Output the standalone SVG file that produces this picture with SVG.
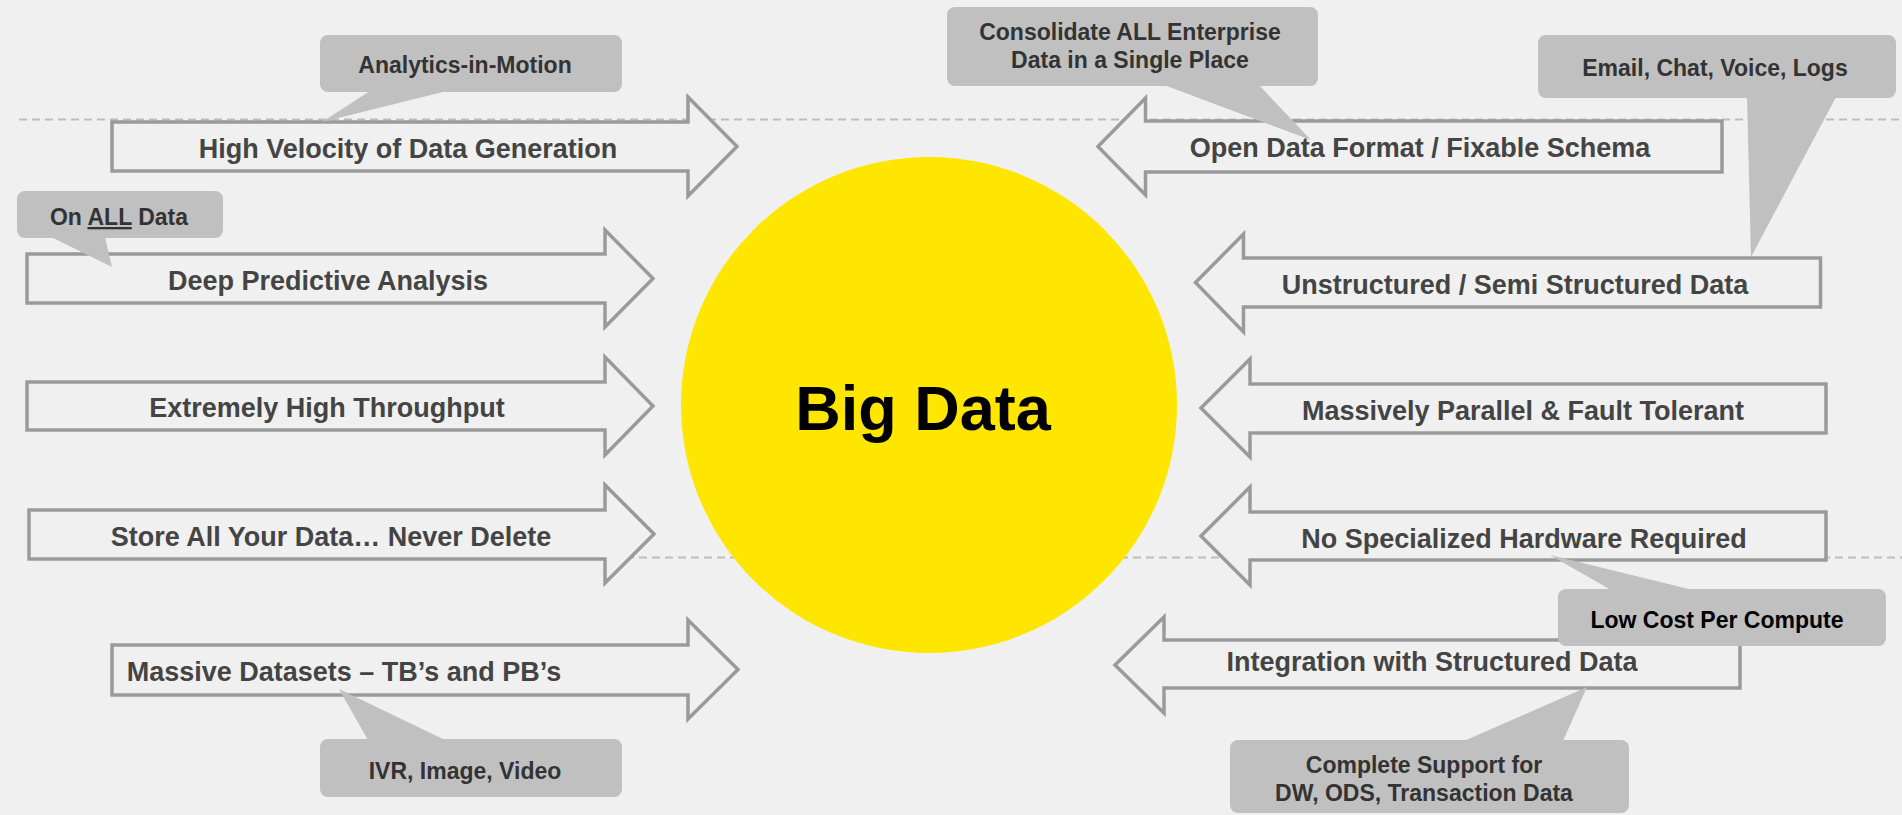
<svg xmlns="http://www.w3.org/2000/svg" width="1902" height="815" viewBox="0 0 1902 815">
  <style>
    .guide { stroke: #bdbdbd; stroke-width: 2; stroke-dasharray: 8 5; fill: none; }
    .arrow { fill: #f0f0f0; stroke: #9a9a9a; stroke-width: 3.5; stroke-linejoin: miter; }
    .lbl { font-family: "Liberation Sans", Arial, sans-serif; font-weight: bold; font-size: 27px; fill: #444444; text-anchor: middle; }
    .bubble { fill: #c0c0c0; }
    .btext { font-family: "Liberation Sans", Arial, sans-serif; font-weight: bold; font-size: 23px; fill: #333333; text-anchor: middle; }
    .hub { fill: #ffe600; }
    .hubtext { font-family: "Liberation Sans", Arial, sans-serif; font-weight: bold; font-size: 63px; fill: #000000; text-anchor: middle; }
  </style>

  <rect width="1902" height="815" fill="#f0f0f0"/>

  <!-- dashed horizontal guides -->
  <g id="guides">
    <line class="guide" x1="19" y1="119.5" x2="1902" y2="119.5"/>
    <line class="guide" x1="600" y1="557.5" x2="1902" y2="557.5"/>
  </g>

  <!-- central hub -->
  <g id="big-data">
    <circle class="hub" cx="929" cy="405" r="248"/>
    <text class="hubtext" x="923" y="430">Big Data</text>
  </g>

  <!-- left-hand arrows, pointing at the hub -->
  <g id="high-velocity">
    <path class="arrow" d="M112,122 H688 V97 L737,146.5 L688,196 V171 H112 Z"/>
    <text class="lbl" x="408" y="158">High Velocity of Data Generation</text>
  </g>
  <g id="deep-predictive">
    <path class="arrow" d="M27,254 H605 V230 L653,278.5 L605,327 V303 H27 Z"/>
    <text class="lbl" x="328" y="290">Deep Predictive Analysis</text>
  </g>
  <g id="high-throughput">
    <path class="arrow" d="M27,382 H605 V357 L653,406 L605,455 V430 H27 Z"/>
    <text class="lbl" x="327" y="417">Extremely High Throughput</text>
  </g>
  <g id="store-all">
    <path class="arrow" d="M29,510 H605 V485 L654,534 L605,583 V559 H29 Z"/>
    <text class="lbl" x="331" y="546">Store All Your Data… Never Delete</text>
  </g>
  <g id="massive-datasets">
    <path class="arrow" d="M112,645 H688 V620 L738,669.5 L688,719 V695 H112 Z"/>
    <text class="lbl" x="344" y="681">Massive Datasets – TB’s and PB’s</text>
  </g>

  <!-- right-hand arrows, pointing at the hub -->
  <g id="open-format">
    <path class="arrow" d="M1722,121 H1145.5 V98 L1098,146.5 L1145.5,195 V172 H1722 Z"/>
    <text class="lbl" x="1420" y="157">Open Data Format / Fixable Schema</text>
  </g>
  <g id="unstructured">
    <path class="arrow" d="M1820.5,258 H1243.5 V234 L1195.5,282.5 L1243.5,332 V307 H1820.5 Z"/>
    <text class="lbl" x="1515" y="294">Unstructured / Semi Structured Data</text>
  </g>
  <g id="massively-parallel">
    <path class="arrow" d="M1826,384 H1250 V359 L1201,408 L1250,457 V433 H1826 Z"/>
    <text class="lbl" x="1523" y="420">Massively Parallel &amp; Fault Tolerant</text>
  </g>
  <g id="no-special-hw">
    <path class="arrow" d="M1826,512 H1250 V487 L1201,536 L1250,585 V560 H1826 Z"/>
    <text class="lbl" x="1524" y="547.5">No Specialized Hardware Required</text>
  </g>
  <g id="structured-integration">
    <path class="arrow" d="M1740,640 H1164 V617 L1115,665 L1164,713 V688 H1740 Z"/>
    <text class="lbl" x="1432" y="671">Integration with Structured Data</text>
  </g>

  <!-- speech-bubble annotations -->
  <g id="note-analytics">
    <rect class="bubble" x="320" y="35" width="302" height="57" rx="8"/>
    <polygon class="bubble" points="370,91 447,91 322,122"/>
    <text class="btext" x="465" y="73">Analytics-in-Motion</text>
  </g>
  <g id="note-all-data">
    <rect class="bubble" x="17" y="191" width="206" height="47" rx="8"/>
    <polygon class="bubble" points="51,237 105,237 112,267"/>
    <text class="btext" x="119" y="225">On <tspan text-decoration="underline">ALL</tspan> Data</text>
  </g>
  <g id="note-media">
    <rect class="bubble" x="320" y="739" width="302" height="58" rx="8"/>
    <polygon class="bubble" points="368,740 445,740 339,689"/>
    <text class="btext" x="465" y="779">IVR, Image, Video</text>
  </g>
  <g id="note-consolidate">
    <rect class="bubble" x="947" y="7" width="371" height="79" rx="8"/>
    <polygon class="bubble" points="1164,85 1259,85 1311,140"/>
    <text class="btext" x="1130" y="40">Consolidate ALL Enterprise</text>
    <text class="btext" x="1130" y="68">Data in a Single Place</text>
  </g>
  <g id="note-channels">
    <rect class="bubble" x="1538" y="35" width="358" height="63" rx="8"/>
    <polygon class="bubble" points="1747,97 1836,97 1751,257"/>
    <text class="btext" x="1715" y="76">Email, Chat, Voice, Logs</text>
  </g>
  <g id="note-low-cost">
    <rect class="bubble" x="1558" y="589" width="328" height="57" rx="8"/>
    <polygon class="bubble" points="1611,590 1693,590 1550,555"/>
    <text class="btext" x="1717" y="628" fill="#000000" style="fill:#000000">Low Cost Per Compute</text>
  </g>
  <g id="note-dw-support">
    <rect class="bubble" x="1230" y="740" width="399" height="73" rx="8"/>
    <polygon class="bubble" points="1464,741 1563,741 1587,687"/>
    <text class="btext" x="1424" y="773">Complete Support for</text>
    <text class="btext" x="1424" y="801">DW, ODS, Transaction Data</text>
  </g>
</svg>
